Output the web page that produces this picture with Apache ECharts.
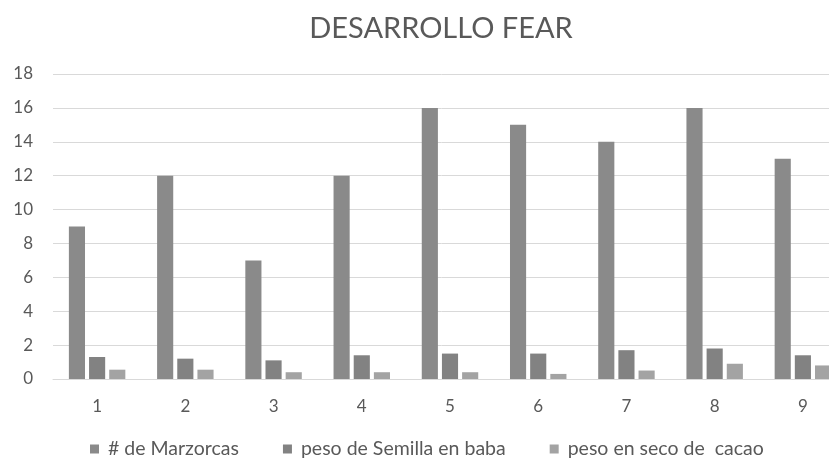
<!DOCTYPE html>
<html>
<head>
<meta charset="utf-8">
<script src="https://cdn.jsdelivr.net/npm/echarts@6/dist/echarts.min.js"></script>
<style>html,body{margin:0;padding:0;background:#fff}#c{width:829px;height:460px}</style>
</head>
<body>
<div id="c"></div>
<script>
const categories = ['1','2','3','4','5','6','7','8','9'];
const marzorcas = [9, 12, 7, 12, 16, 15, 14, 16, 13];
const semillaBaba = [1.3, 1.2, 1.1, 1.4, 1.5, 1.5, 1.7, 1.8, 1.4];
const secoCacao = [0.55, 0.55, 0.4, 0.4, 0.4, 0.3, 0.5, 0.9, 0.8];
const seriesNames = ['# de Marzorcas', 'peso de Semilla en baba', 'peso en seco de  cacao'];
const yTicks = [0, 2, 4, 6, 8, 10, 12, 14, 16, 18];

const font = 'Lato, "Liberation Sans", sans-serif';
const chart = echarts.init(document.getElementById('c'));
chart.setOption({
  animation: false,
  backgroundColor: '#ffffff',
  title: {
    text: 'DESARROLLO FEAR',
    left: 436, top: 9, textAlign: 'center',
    textStyle: { fontFamily: font, fontSize: 29, fontWeight: 'normal', color: '#595959' }
  },
  legend: {
    top: 439, left: 90, padding: 0,
    itemWidth: 9, itemHeight: 9, itemGap: 44,
    icon: 'rect',
    textStyle: { fontFamily: font, fontSize: 19.5, color: '#595959', padding: [0, 0, 0, 4] },
    data: seriesNames
  },
  grid: { left: 53, top: 74, width: 794, height: 305, outerBoundsMode: 'none' },
  xAxis: {
    type: 'category', data: categories,
    axisLine: { lineStyle: { color: '#d9d9d9' } },
    axisTick: { show: false },
    axisLabel: { fontFamily: font, fontSize: 17, color: '#595959', margin: 19 }
  },
  yAxis: {
    type: 'value', min: yTicks[0], max: yTicks[yTicks.length - 1], interval: 2,
    axisLine: { show: false }, axisTick: { show: false },
    splitLine: { lineStyle: { color: '#d9d9d9' } },
    axisLabel: { fontFamily: font, fontSize: 17, color: '#595959', margin: 20 }
  },
  series: [
    { name: seriesNames[0], type: 'bar', data: marzorcas, barGap: '25%', barCategoryGap: '36%',
      itemStyle: { color: '#8a8a8a' } },
    { name: seriesNames[1], type: 'bar', data: semillaBaba,
      itemStyle: { color: '#828282' } },
    { name: seriesNames[2], type: 'bar', data: secoCacao,
      itemStyle: { color: '#a3a3a3' } }
  ]
});
</script>
</body>
</html>
